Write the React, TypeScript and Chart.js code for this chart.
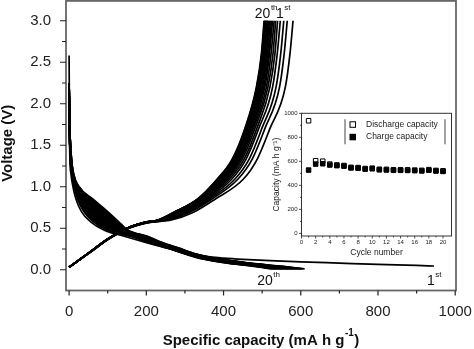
import React, { useEffect, useRef } from "react";
import { Chart, registerables } from "chart.js";

Chart.register(...registerables);

const FONT = "'Liberation Sans', Arial, Helvetica, sans-serif";

// ---- main plot axes ----
const X_TICKS = [0, 200, 400, 600, 800, 1000];
const X_MINOR = [100, 300, 500, 700, 900];
const Y_TICKS = [0, 0.5, 1, 1.5, 2, 2.5, 3];
const Y_MINOR = [0.25, 0.75, 1.25, 1.75, 2.25, 2.75];

// ---- charge curves (cycle 1 .. 20): capacity reached at each voltage level ----
const CHARGE_V = [0.03, 0.2, 0.37, 0.5, 0.57, 0.6, 0.69, 0.85, 1.09, 1.33, 1.7, 2.2, 2.6, 3.0];
const CHARGE_CAP = [
  [0, 52, 103, 155, 210, 265, 321, 378, 451, 487, 520, 560, 572, 580],
  [0, 52, 102, 154, 207, 258, 311, 369, 437, 474, 507, 545, 557, 565],
  [0, 51, 102, 153, 205, 254, 305, 363, 429, 466, 499, 536, 548, 556],
  [0, 51, 102, 153, 203, 250, 299, 358, 421, 458, 491, 527, 539, 547],
  [0, 51, 101, 152, 202, 246, 294, 354, 415, 453, 486, 520, 533, 540],
  [0, 51, 101, 152, 201, 244, 290, 350, 410, 448, 481, 515, 528, 535],
  [0, 51, 101, 152, 200, 242, 287, 348, 406, 444, 477, 511, 523, 531],
  [0, 51, 101, 151, 199, 240, 285, 345, 403, 441, 474, 507, 519, 527],
  [0, 51, 101, 151, 199, 239, 283, 344, 400, 438, 471, 504, 517, 524],
  [0, 50, 101, 151, 198, 237, 281, 342, 397, 436, 469, 501, 514, 521],
  [0, 50, 101, 151, 198, 236, 279, 340, 395, 434, 467, 499, 511, 519],
  [0, 50, 100, 151, 197, 235, 278, 339, 393, 432, 465, 496, 509, 516],
  [0, 50, 100, 151, 197, 234, 276, 338, 391, 430, 463, 494, 507, 514],
  [0, 50, 100, 151, 197, 234, 275, 337, 390, 429, 462, 493, 505, 513],
  [0, 50, 100, 150, 196, 233, 274, 336, 388, 427, 460, 491, 504, 511],
  [0, 50, 100, 150, 196, 232, 273, 335, 387, 426, 459, 490, 502, 510],
  [0, 50, 100, 150, 196, 232, 272, 334, 386, 425, 458, 488, 501, 508],
  [0, 50, 100, 150, 195, 231, 272, 333, 385, 424, 457, 487, 500, 507],
  [0, 50, 100, 150, 195, 231, 271, 333, 384, 423, 456, 486, 499, 506],
  [0, 50, 100, 150, 195, 230, 270, 332, 383, 422, 455, 485, 498, 505],
];

// ---- first discharge ----
const FIRST_DISCHARGE_V = [2.58, 2.2, 1.7, 1.35, 1.15, 1.0, 0.85, 0.7, 0.58, 0.48, 0.4, 0.32, 0.25, 0.19, 0.155, 0.14, 0.125, 0.11, 0.095, 0.08, 0.065, 0.052, 0.045];
const FIRST_DISCHARGE_CAP = [0, 0.5, 1, 2, 5, 10, 18, 32, 55, 90, 145, 205, 262, 318, 365, 400, 450, 520, 600, 700, 800, 900, 945];

// ---- discharge curves (cycle 2 .. 20) ----
const DISCHARGE_V = [2.25, 1.7, 1.35, 1.15, 1.0, 0.85, 0.7, 0.58, 0.48, 0.4, 0.33, 0.26, 0.19, 0.13, 0.08, 0.04, 0.01];
const DISCHARGE_CAP = [
  [0, 2, 6, 12, 26, 62, 100, 128, 152, 205, 240, 285, 330, 390, 470, 555, 610],
  [0, 2, 6, 12, 25, 60, 97, 124, 149, 203, 238, 283, 328, 388, 467, 551, 605],
  [0, 2, 6, 11, 25, 58, 93, 121, 146, 200, 236, 282, 327, 385, 463, 547, 601],
  [0, 2, 6, 11, 24, 55, 90, 117, 143, 198, 234, 280, 325, 383, 460, 543, 596],
  [0, 2, 5, 11, 23, 53, 86, 113, 140, 195, 232, 278, 323, 380, 457, 538, 591],
  [0, 2, 5, 11, 22, 51, 83, 110, 137, 193, 230, 277, 322, 378, 453, 534, 586],
  [0, 2, 5, 10, 22, 49, 79, 106, 134, 190, 228, 275, 320, 375, 450, 530, 582],
  [0, 2, 5, 10, 21, 46, 76, 102, 131, 188, 226, 273, 318, 373, 447, 526, 577],
  [0, 2, 5, 10, 20, 44, 72, 99, 128, 185, 224, 272, 317, 370, 443, 522, 572],
  [0, 2, 4, 9, 19, 42, 69, 95, 125, 183, 223, 270, 315, 368, 440, 518, 568],
  [0, 1, 4, 9, 19, 40, 66, 91, 122, 180, 221, 268, 313, 365, 437, 513, 563],
  [0, 1, 4, 9, 18, 38, 62, 88, 119, 178, 219, 267, 312, 363, 433, 509, 558],
  [0, 1, 4, 9, 17, 35, 59, 84, 116, 175, 217, 265, 310, 360, 430, 505, 553],
  [0, 1, 4, 8, 17, 33, 55, 80, 113, 173, 215, 263, 308, 358, 427, 501, 549],
  [0, 1, 4, 8, 16, 31, 52, 77, 110, 170, 213, 262, 307, 355, 423, 497, 544],
  [0, 1, 4, 8, 15, 29, 48, 73, 107, 168, 211, 260, 305, 353, 420, 493, 539],
  [0, 1, 3, 8, 14, 26, 45, 69, 104, 165, 209, 258, 303, 350, 417, 488, 534],
  [0, 1, 3, 7, 14, 24, 41, 66, 101, 163, 207, 257, 302, 348, 413, 484, 530],
  [0, 1, 3, 7, 13, 22, 38, 62, 98, 160, 205, 255, 300, 345, 410, 480, 525],
];

// ---- cycle labels on the main plot ----
const CYCLE_LABEL_TEXT = ["20", "1", "20", "1"];
const CYCLE_LABEL_SUP = ["th", "st", "th", "st"];
const CYCLE_LABEL_CAP = [481, 536, 487, 927];
const CYCLE_LABEL_VOLT = [3.03, 3.03, -0.178, -0.178];

// ---- inset: capacity vs cycle number ----
const CYCLES = [1, 2, 3, 4, 5, 6, 7, 8, 9, 10, 11, 12, 13, 14, 15, 16, 17, 18, 19, 20];
const DISCHARGE_CAPACITY = [938, 605, 601, 577, 570, 565, 550, 548, 540, 543, 534, 533, 530, 530, 529, 527, 525, 531, 524, 521];
const CHARGE_CAPACITY = [527, 577, 580, 569, 564, 560, 545, 543, 535, 538, 529, 528, 525, 525, 524, 522, 520, 526, 519, 516];
const INSET_X_TICKS = [0, 2, 4, 6, 8, 10, 12, 14, 16, 18, 20];
const INSET_X_MINOR = [1, 3, 5, 7, 9, 11, 13, 15, 17, 19];
const INSET_Y_TICKS = [0, 200, 400, 600, 800, 1000];
const INSET_Y_MINOR = [100, 300, 500, 700, 900];

function zeroPad(s: any) {
  s.paddingTop = 0;
  s.paddingBottom = 0;
  s.paddingLeft = 0;
  s.paddingRight = 0;
}

function drawTickMarks(ctx: CanvasRenderingContext2D, scale: any, values: number[], len: number) {
  ctx.beginPath();
  values.forEach((v) => {
    const p = scale.getPixelForValue(v);
    if (scale.isHorizontal()) {
      ctx.moveTo(p, scale.top);
      ctx.lineTo(p, scale.top + len);
    } else {
      ctx.moveTo(scale.right, p);
      ctx.lineTo(scale.right - len, p);
    }
  });
  ctx.stroke();
}

function drawSup(ctx: CanvasRenderingContext2D, x: number, y: number, main: string, sup: string, size: number, supSize: number, rise: number, tail = "", bold = false) {
  const w = bold ? "bold " : "";
  ctx.font = `${w}${size}px ${FONT}`;
  const w1 = ctx.measureText(main).width;
  ctx.fillText(main, x, y);
  ctx.font = `${w}${supSize}px ${FONT}`;
  const w2 = ctx.measureText(sup).width;
  ctx.fillText(sup, x + w1 + 0.5, y - rise);
  if (tail) {
    ctx.font = `${w}${size}px ${FONT}`;
    ctx.fillText(tail, x + w1 + 0.5 + w2 + 0.5, y);
  }
}

function measureSup(ctx: CanvasRenderingContext2D, main: string, sup: string, tail: string, size: number, supSize: number, bold: boolean) {
  const w = bold ? "bold " : "";
  ctx.font = `${w}${size}px ${FONT}`;
  const a = ctx.measureText(main).width + ctx.measureText(tail).width;
  ctx.font = `${w}${supSize}px ${FONT}`;
  return a + ctx.measureText(sup).width + 1;
}

const mainDecor = {
  id: "mainDecor",
  afterDraw(chart: any) {
    const { ctx, chartArea: a, scales } = chart;
    const x = scales.x;
    const y = scales.y;
    ctx.save();
    // frame
    ctx.strokeStyle = "#666";
    ctx.lineWidth = 1.8;
    ctx.strokeRect(a.left, a.top + 0.9, a.right - a.left, a.bottom - a.top - 0.9);
    // ticks
    ctx.strokeStyle = "#222";
    ctx.lineWidth = 1.2;
    drawTickMarks(ctx, x, X_TICKS, 5);
    drawTickMarks(ctx, x, X_MINOR, 3);
    drawTickMarks(ctx, y, Y_TICKS, 6);
    drawTickMarks(ctx, y, Y_MINOR, 4);
    // axis titles
    ctx.fillStyle = "#111";
    ctx.textBaseline = "alphabetic";
    ctx.textAlign = "left";
    const xt = measureSup(ctx, "Specific capacity (mA h g", "-1", ")", 15, 10, true);
    drawSup(ctx, (a.left + a.right) / 2 - xt / 2, 345, "Specific capacity (mA h g", "-1", 15, 10, 9, ")", true);
    ctx.save();
    ctx.translate(12, (a.top + a.bottom) / 2 - 2);
    ctx.rotate(-Math.PI / 2);
    ctx.textAlign = "center";
    ctx.font = `bold 15px ${FONT}`;
    ctx.fillText("Voltage (V)", 0, 0);
    ctx.restore();
    // cycle labels
    ctx.textAlign = "left";
    CYCLE_LABEL_TEXT.forEach((t, i) => {
      const px = x.getPixelForValue(CYCLE_LABEL_CAP[i]);
      const py = y.getPixelForValue(CYCLE_LABEL_VOLT[i]);
      drawSup(ctx, px, py, t, CYCLE_LABEL_SUP[i], 14, 8, 8);
    });
    ctx.restore();
  },
};

const insetDecor = {
  id: "insetDecor",
  afterDraw(chart: any) {
    const { ctx, chartArea: a, scales } = chart;
    ctx.save();
    ctx.strokeStyle = "#333";
    ctx.lineWidth = 1;
    ctx.strokeRect(a.left, a.top, a.right - a.left, a.bottom - a.top);
    ctx.strokeStyle = "#222";
    ctx.lineWidth = 0.8;
    drawTickMarks(ctx, scales.x, INSET_X_TICKS, 2.5);
    drawTickMarks(ctx, scales.x, INSET_X_MINOR, 1.5);
    drawTickMarks(ctx, scales.y, INSET_Y_TICKS, 2.5);
    drawTickMarks(ctx, scales.y, INSET_Y_MINOR, 1.5);
    // legend
    const lx = a.left + 43.5;
    const rx = a.right - 6.5;
    const ty = a.top + 6;
    ctx.strokeStyle = "#444";
    ctx.lineWidth = 1;
    ctx.beginPath();
    ctx.moveTo(lx, ty);
    ctx.lineTo(lx, ty + 25);
    ctx.moveTo(rx, ty);
    ctx.lineTo(rx, ty + 25);
    ctx.stroke();
    ctx.lineWidth = 1;
    ctx.strokeStyle = "#000";
    ctx.fillStyle = "#fff";
    ctx.fillRect(lx + 5, ty + 2.5, 5.5, 5.5);
    ctx.strokeRect(lx + 5, ty + 2.5, 5.5, 5.5);
    ctx.fillStyle = "#000";
    ctx.fillRect(lx + 4.5, ty + 14.5, 6.5, 6.5);
    ctx.font = `8.5px ${FONT}`;
    ctx.fillStyle = "#222";
    ctx.textAlign = "left";
    ctx.textBaseline = "middle";
    ctx.fillText("Discharge capacity", lx + 21, ty + 5.5);
    ctx.fillText("Charge capacity", lx + 21, ty + 17.5);
    ctx.restore();
  },
};

function lineSet(caps: number[], volts: number[]) {
  return {
    data: caps.map((c, i) => ({ x: c, y: volts[i] })),
    borderColor: "#000",
    borderWidth: 1.7,
    pointRadius: 0,
    fill: false,
    cubicInterpolationMode: "monotone" as const,
  };
}

export default function App() {
  const mainRef = useRef<HTMLCanvasElement>(null);
  const insetRef = useRef<HTMLCanvasElement>(null);

  useEffect(() => {
    const datasets: any[] = [];
    CHARGE_CAP.forEach((caps) => datasets.push(lineSet(caps, CHARGE_V)));
    datasets.push(lineSet(FIRST_DISCHARGE_CAP, FIRST_DISCHARGE_V));
    DISCHARGE_CAP.forEach((caps) => datasets.push(lineSet(caps, DISCHARGE_V)));

    const main = new Chart(mainRef.current!, {
      type: "line",
      data: { datasets },
      options: {
        animation: false,
        responsive: false,
        maintainAspectRatio: false,
        layout: { autoPadding: false, padding: { top: 0, right: 18, bottom: 0, left: 0 } },
        plugins: { legend: { display: false }, tooltip: { enabled: false } },
        scales: {
          x: {
            type: "linear",
            min: -8,
            max: 1002,
            border: { display: false },
            grid: { display: false, drawTicks: false },
            ticks: {
              font: { family: FONT, size: 15 },
              color: "#222",
              padding: 12,
              maxRotation: 0,
              autoSkip: false,
              callback: (v: any) => String(v),
            },
            afterBuildTicks: (s: any) => {
              s.ticks = X_TICKS.map((v) => ({ value: v }));
            },
            afterFit: (s: any) => {
              s.height = 58.5;
              zeroPad(s);
            },
          },
          y: {
            type: "linear",
            min: -0.25,
            max: 3.25,
            border: { display: false },
            grid: { display: false, drawTicks: false },
            ticks: {
              font: { family: FONT, size: 15 },
              color: "#222",
              padding: 15,
              autoSkip: false,
              callback: (v: any) => Number(v).toFixed(1),
            },
            afterBuildTicks: (s: any) => {
              s.ticks = Y_TICKS.map((v) => ({ value: v }));
            },
            afterFit: (s: any) => {
              s.width = 66;
              zeroPad(s);
            },
          },
        },
      } as any,
      plugins: [mainDecor],
    });

    const inset = new Chart(insetRef.current!, {
      type: "scatter",
      data: {
        datasets: [
          {
            label: "Charge capacity",
            data: CYCLES.map((c, i) => ({ x: c, y: CHARGE_CAPACITY[i] })),
            pointStyle: "rect",
            pointRadius: 3.2,
            backgroundColor: "#000",
            borderColor: "#000",
            borderWidth: 1,
            order: 0,
          },
          {
            label: "Discharge capacity",
            data: CYCLES.map((c, i) => ({ x: c, y: DISCHARGE_CAPACITY[i] })),
            pointStyle: "rect",
            pointRadius: 3.2,
            backgroundColor: "#fff",
            borderColor: "#000",
            borderWidth: 1,
            order: 1,
          },
        ],
      },
      options: {
        animation: false,
        responsive: false,
        maintainAspectRatio: false,
        layout: { autoPadding: false, padding: { top: 9.3, right: 6.5, bottom: 0, left: 0 } },
        plugins: { legend: { display: false }, tooltip: { enabled: false } },
        scales: {
          x: {
            type: "linear",
            min: 0,
            max: 21.2,
            border: { display: false },
            grid: { display: false, drawTicks: false },
            ticks: {
              font: { family: FONT, size: 6 },
              color: "#222",
              padding: 3,
              maxRotation: 0,
              autoSkip: false,
              callback: (v: any) => String(v),
            },
            afterBuildTicks: (s: any) => {
              s.ticks = INSET_X_TICKS.map((v) => ({ value: v }));
            },
            afterFit: (s: any) => {
              s.height = 28;
              zeroPad(s);
            },
            title: {
              display: true,
              text: "Cycle number",
              font: { family: FONT, size: 8.5 },
              color: "#222",
              padding: { top: 0, bottom: 6 },
            },
          },
          y: {
            type: "linear",
            min: -22,
            max: 1000,
            border: { display: false },
            grid: { display: false, drawTicks: false },
            ticks: {
              font: { family: FONT, size: 6 },
              color: "#222",
              padding: 4,
              autoSkip: false,
              callback: (v: any) => String(v),
            },
            afterBuildTicks: (s: any) => {
              s.ticks = INSET_Y_TICKS.map((v) => ({ value: v }));
            },
            afterFit: (s: any) => {
              s.width = 33.5;
              zeroPad(s);
            },
            title: {
              display: true,
              text: "Capacity (mA h g\u207B\u00B9)",
              font: { family: FONT, size: 8.5 },
              color: "#222",
              padding: { top: 4, bottom: 0 },
            },
          },
        },
      } as any,
      plugins: [insetDecor],
    });

    return () => {
      main.destroy();
      inset.destroy();
    };
  }, []);

  return (
    <div style={{ position: "fixed", left: 0, top: 0, width: 474, height: 349, background: "#fff" }}>
      <canvas
        ref={mainRef}
        width={474}
        height={349}
        style={{ position: "absolute", left: 0, top: 0, width: 474, height: 349 }}
      />
      <canvas
        ref={insetRef}
        width={190}
        height={160}
        style={{ position: "absolute", left: 268, top: 104, width: 190, height: 160 }}
      />
    </div>
  );
}
